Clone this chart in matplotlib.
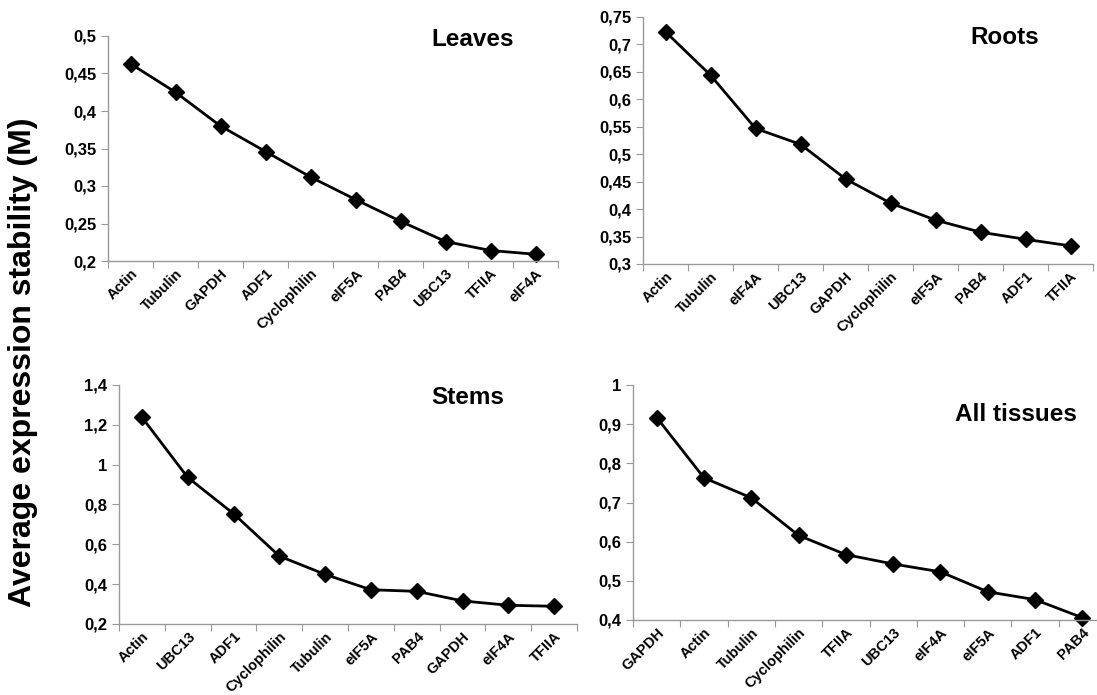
import numpy as np
import matplotlib
matplotlib.use("Agg")
import matplotlib.pyplot as plt
from matplotlib.ticker import FuncFormatter, MultipleLocator

# geNorm average expression stability per tissue
leaves_genes = ["Actin", "Tubulin", "GAPDH", "ADF1", "Cyclophilin",
                "eIF5A", "PAB4", "UBC13", "TFIIA", "eIF4A"]
leaves_m = [0.463, 0.425, 0.380, 0.346, 0.312, 0.282, 0.253, 0.226, 0.214, 0.209]

roots_genes = ["Actin", "Tubulin", "eIF4A", "UBC13", "GAPDH",
               "Cyclophilin", "eIF5A", "PAB4", "ADF1", "TFIIA"]
roots_m = [0.723, 0.644, 0.547, 0.518, 0.455, 0.411, 0.380, 0.358, 0.345, 0.333]

stems_genes = ["Actin", "UBC13", "ADF1", "Cyclophilin", "Tubulin",
               "eIF5A", "PAB4", "GAPDH", "eIF4A", "TFIIA"]
stems_m = [1.238, 0.936, 0.754, 0.541, 0.449, 0.372, 0.364, 0.316, 0.294, 0.289]

all_genes = ["GAPDH", "Actin", "Tubulin", "Cyclophilin", "TFIIA",
             "UBC13", "eIF4A", "eIF5A", "ADF1", "PAB4"]
all_m = [0.917, 0.763, 0.712, 0.616, 0.567, 0.543, 0.523, 0.472, 0.452, 0.406]

plt.rcParams['font.family'] = ['Liberation Sans', 'DejaVu Sans']
plt.rcParams['font.weight'] = 'bold'

W, H = 1097, 695
fig = plt.figure(figsize=(W / 100, H / 100), dpi=100)


def px_axes(left, right, top, bottom):
    return fig.add_axes([left / W, 1 - bottom / H, (right - left) / W, (bottom - top) / H])


def comma_fmt(v, pos):
    s = ("%.2f" % v).rstrip("0").rstrip(".")
    return s.replace(".", ",")


def panel(ax, genes, vals, ymin, ymax, step, title, tx, ty):
    x = np.arange(len(genes)) + 0.5
    ax.plot(x, vals, color="black", lw=2, marker="D", ms=8.5,
            markerfacecolor="black", markeredgecolor="black")
    ax.set_xlim(0, len(genes))
    ax.set_ylim(ymin, ymax)
    ax.yaxis.set_major_locator(MultipleLocator(step))
    ax.yaxis.set_major_formatter(FuncFormatter(comma_fmt))
    ax.set_xticks(np.arange(len(genes) + 1))
    ax.set_xticklabels([])
    ax.set_xticks(x, minor=True)
    ax.set_xticklabels(genes, minor=True, rotation=45, ha="right",
                       rotation_mode="anchor", fontsize=10.5, fontweight="bold")
    ax.tick_params(axis="x", which="minor", length=0, pad=4)
    ax.tick_params(axis="x", which="major", length=5, color="#999999")
    ax.tick_params(axis="y", length=5, color="#999999", labelsize=12)
    for lab in ax.get_yticklabels():
        lab.set_fontweight("bold")
    for s in ["top", "right"]:
        ax.spines[s].set_visible(False)
    for s in ["left", "bottom"]:
        ax.spines[s].set_color("#999999")
        ax.spines[s].set_linewidth(1)
    ax.patch.set_alpha(0)
    for l in ax.lines:
        l.set_clip_on(False)
    fig.text(tx / W, 1 - ty / H, title, fontsize=17.5, fontweight="bold",
             ha="center", va="center")


panel(px_axes(108, 558, 36, 261), leaves_genes, leaves_m, 0.2, 0.5, 0.05, "Leaves", 473, 40)
panel(px_axes(643, 1093, 17, 264), roots_genes, roots_m, 0.3, 0.75, 0.05, "Roots", 1005, 38)
panel(px_axes(119, 577, 385, 624), stems_genes, stems_m, 0.2, 1.4, 0.2, "Stems", 468, 397)
panel(px_axes(633, 1106, 385, 620), all_genes, all_m, 0.4, 1.0, 0.1, "All tissues", 1016, 414)

fig.text(23 / W, 1 - 362 / H, "Average expression stability (M)", rotation=90,
         fontsize=23, fontweight="bold", ha="center", va="center")

fig.savefig("out.png", dpi=100)
